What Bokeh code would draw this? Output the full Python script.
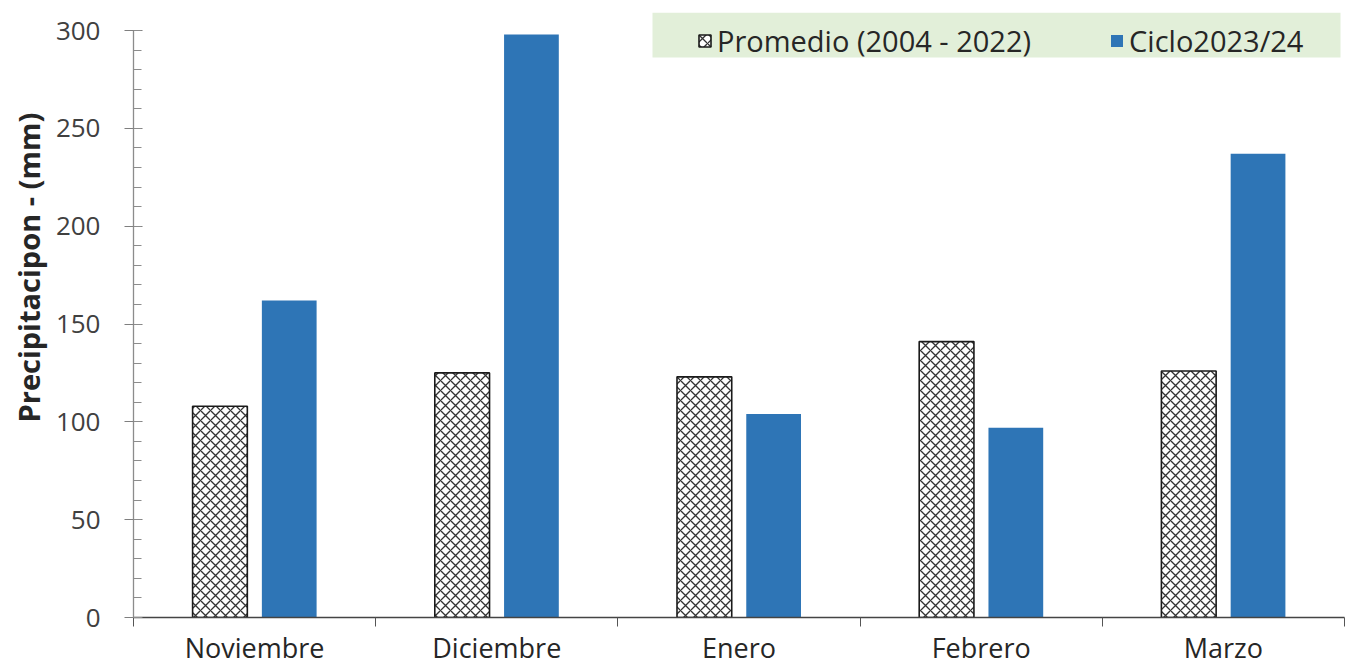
import numpy as np
from bokeh.plotting import figure
from bokeh.models import (Range1d, FixedTicker, SingleIntervalTicker, Legend, LegendItem,
                          ColumnDataSource, Title, BoxAnnotation)
from bokeh.embed import file_html
from bokeh.resources import INLINE

months = ["Noviembre", "Diciembre", "Enero", "Febrero", "Marzo"]
promedio = [108, 125, 123, 141, 126]
ciclo = [162, 298, 104, 97, 237]
series_names = ["Promedio (2004 - 2022)", "Ciclo2023/24"]

W, H = 1349, 668
p = figure(width=W, height=H, output_backend="svg", toolbar_location=None,
           x_range=Range1d(0, len(months)), y_range=Range1d(0, 300 * 605 / 587),
           min_border_left=133, min_border_right=5, min_border_top=12, min_border_bottom=51)
p.xgrid.visible = False
p.ygrid.visible = False
p.outline_line_color = None
p.background_fill_color = "white"

idx = np.arange(len(months))
centers = idx + 0.5
off = 0.143
bw = 0.226

src = ColumnDataSource(dict(xa=centers - off, xb=centers + off, prom=promedio, cic=ciclo))
r1 = p.vbar(x="xa", top="prom", width=bw, source=src, fill_color="white", line_color="#1a1a1a",
            line_width=1.6, hatch_pattern="diagonal_cross", hatch_color="#333333", hatch_scale=10,
            hatch_weight=1.3)
r2 = p.vbar(x="xb", top="cic", width=bw, source=src, fill_color="#2e75b6", line_color=None)

# x axis
xa = p.xaxis[0]
xa.ticker = FixedTicker(ticks=list(centers), minor_ticks=list(np.arange(len(months) + 1)))
xa.major_label_overrides = {float(c): m for c, m in zip(centers, months)}
xa.major_tick_out = 0
xa.major_tick_in = 0
xa.minor_tick_out = 9
xa.minor_tick_in = 0
xa.minor_tick_line_color = "#555555"
xa.axis_line_color = "#444444"
xa.axis_line_width = 1.3
xa.major_label_text_font = "Open Sans"
xa.major_label_text_font_size = "27px"
xa.major_label_text_color = "#262626"
xa.major_label_standoff = 2

ya = p.yaxis[0]
ya.ticker = SingleIntervalTicker(interval=50, num_minor_ticks=5)
ya.bounds = (0, 300)
ya.major_tick_in = 9
ya.major_tick_out = 9
ya.minor_tick_in = 8
ya.minor_tick_out = 0
ya.axis_line_color = "#8c8c8c"
ya.axis_line_width = 1.3
ya.major_tick_line_color = "#7f7f7f"
ya.minor_tick_line_color = "#8c8c8c"
ya.major_label_text_font = "Open Sans"
ya.major_label_text_font_size = "26px"
ya.major_label_text_color = "#404040"
ya.major_label_standoff = 24

t = Title(text="Precipitacipon - (mm)", align="left", offset=195, text_font="Open Sans",
          text_font_size="29px", text_font_style="bold", text_color="#262626")
p.add_layout(t, "left")

bg = BoxAnnotation(left=652, right=1340, top=12, bottom=57, left_units="canvas", right_units="canvas",
                   top_units="canvas", bottom_units="canvas", fill_color="#e2efd9", fill_alpha=1,
                   line_color=None, level="underlay")
p.add_layout(bg)

legend = Legend(items=[LegendItem(label=series_names[0], renderers=[r1]),
                       LegendItem(label=series_names[1], renderers=[r2])],
                orientation="horizontal", location=(564, 557), padding=8, spacing=78,
                label_text_font="Open Sans", label_text_font_size="29px", label_text_color="#262626",
                glyph_width=15, glyph_height=15, label_standoff=5, label_height=30,
                background_fill_alpha=0, border_line_color=None)
p.add_layout(legend)

open("out.html", "w").write(file_html(p, INLINE))
